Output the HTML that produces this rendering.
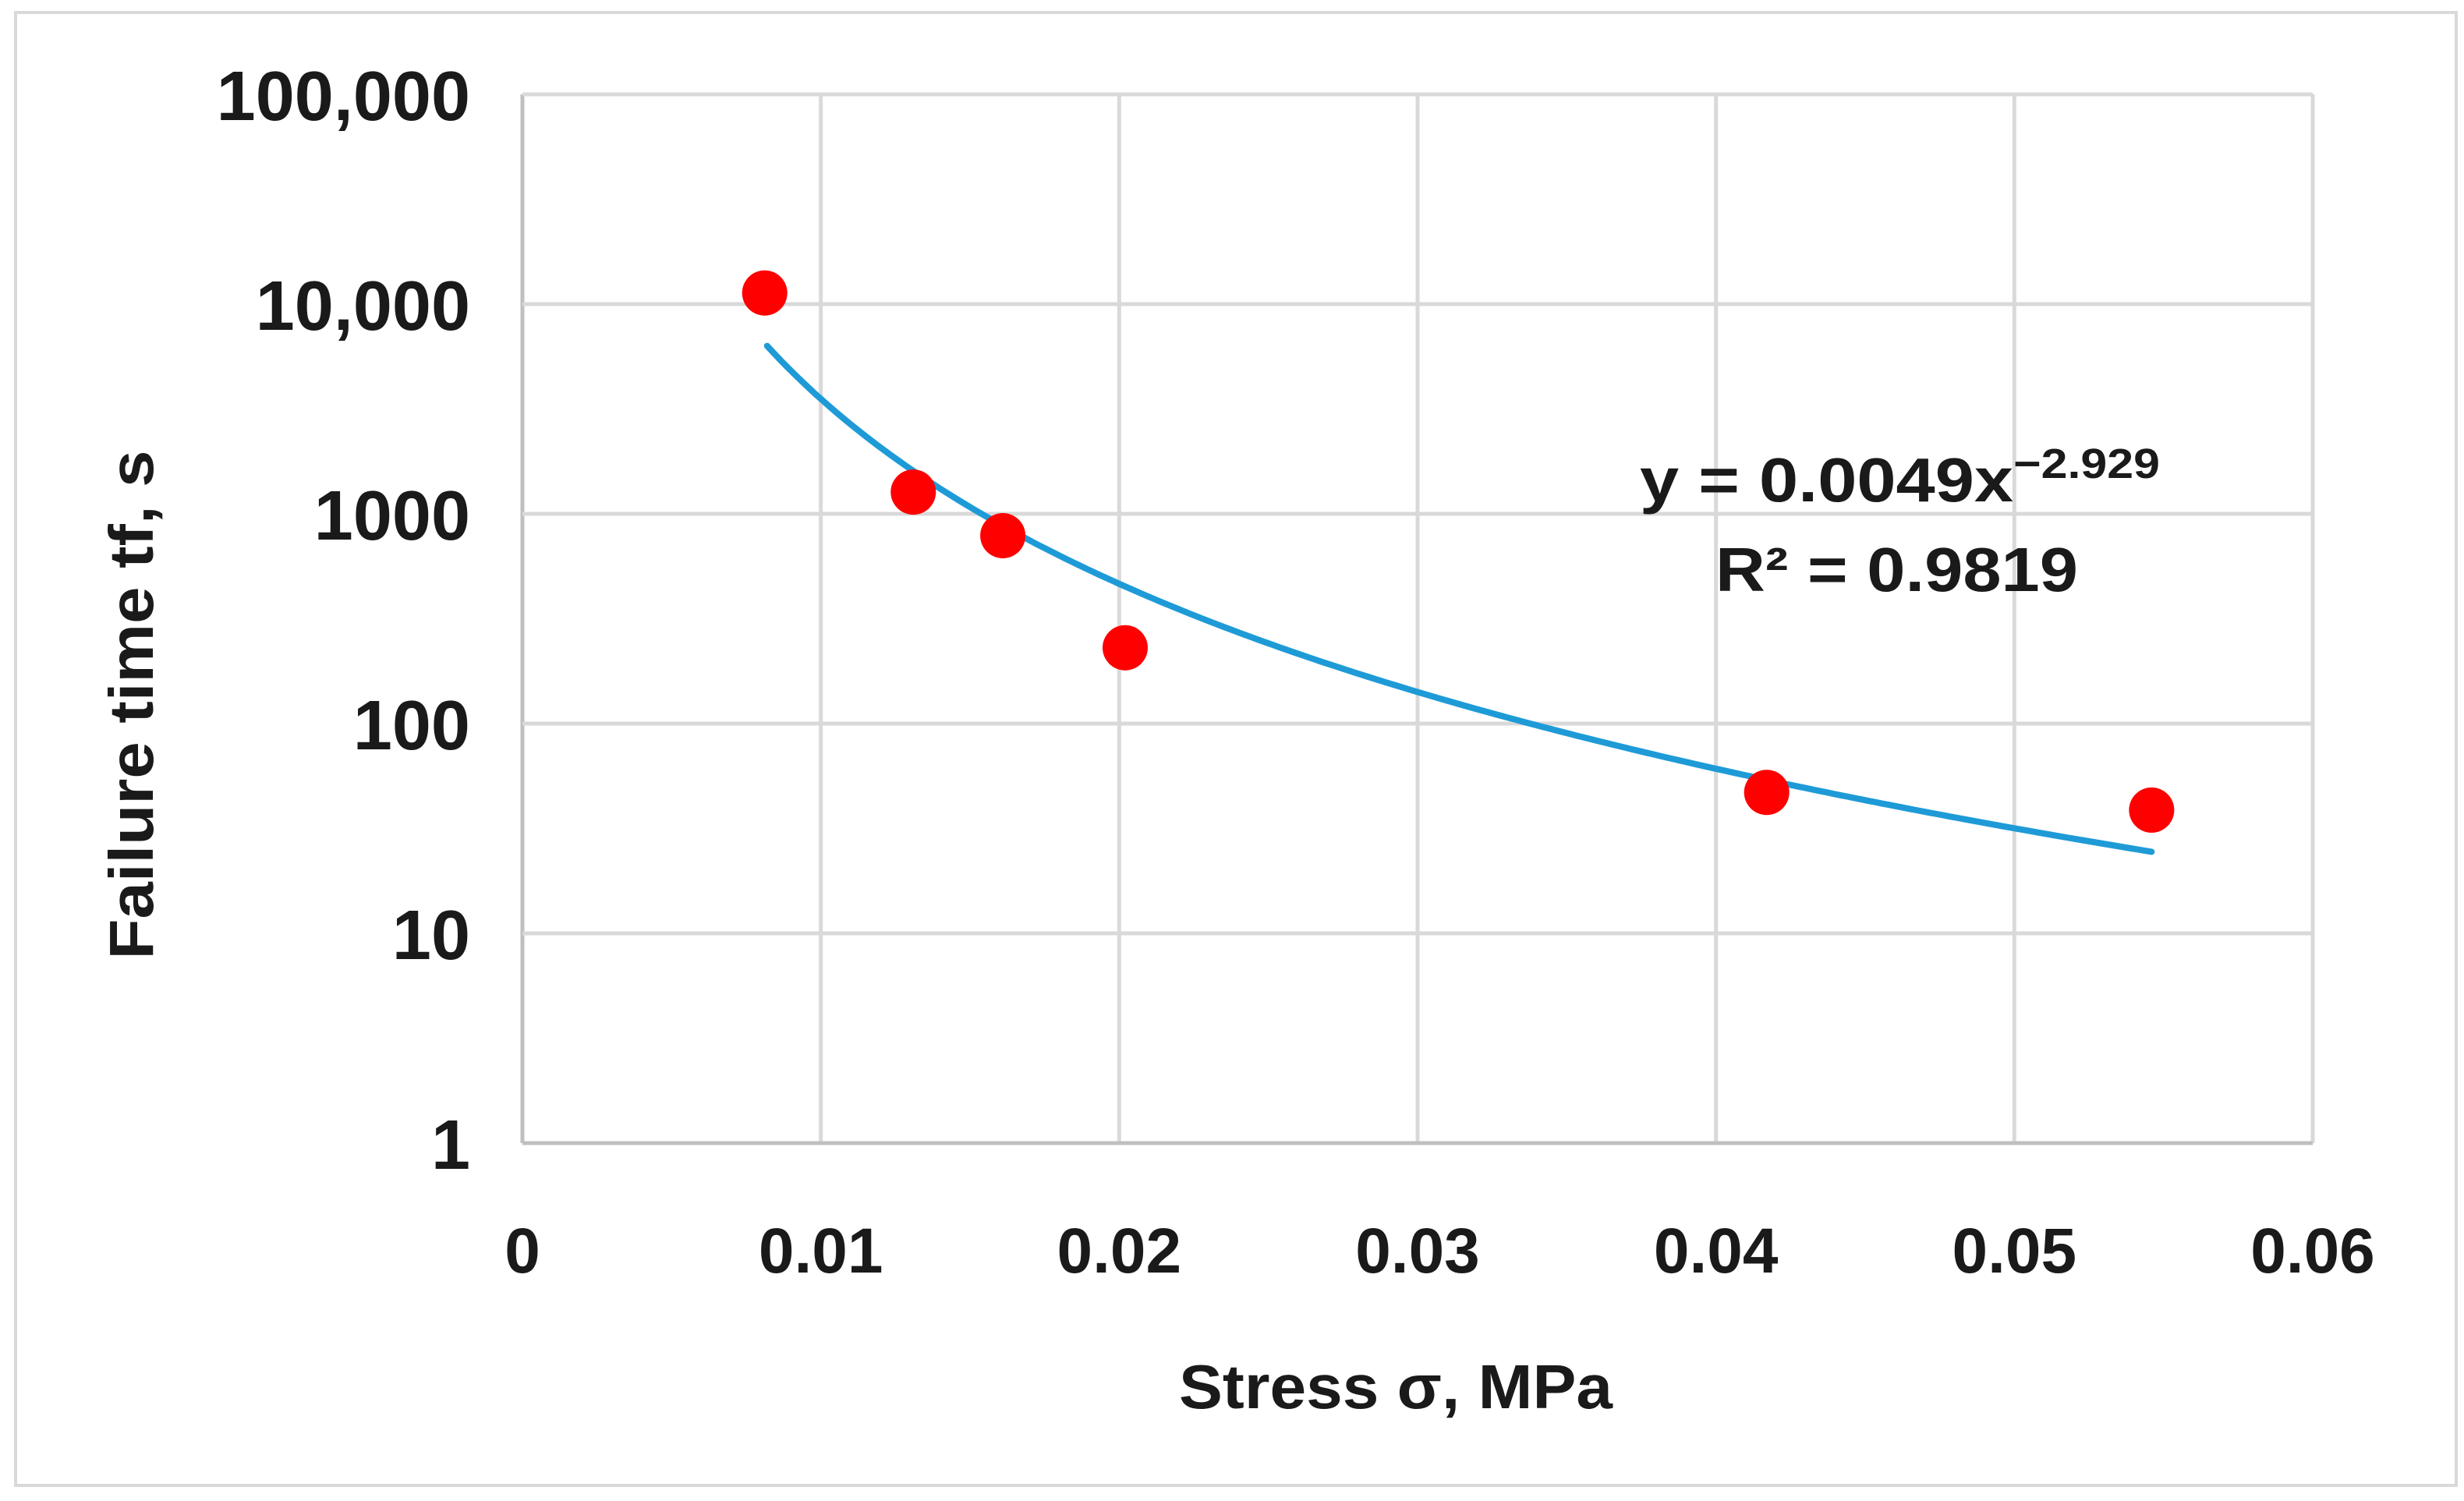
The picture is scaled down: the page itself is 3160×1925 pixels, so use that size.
<!DOCTYPE html>
<html><head><meta charset="utf-8"><style>
html,body{margin:0;padding:0;background:#fff;}
svg{display:block;font-family:"Liberation Sans",sans-serif;font-weight:bold;}
</style></head><body>
<svg id="chart" width="3160" height="1925" viewBox="0 0 3160 1925" xmlns="http://www.w3.org/2000/svg">
<rect x="20" y="16" width="3130" height="1889" fill="#fff" stroke="#d9d9d9" stroke-width="4"/>
<g id="grid"></g>
<g id="labels"></g>
<path id="trend" fill="none" stroke="#1e9bd7" stroke-width="8" stroke-linecap="round"/>
<g id="points"></g>
<text x="1790" y="1806" font-size="80" text-anchor="middle" textLength="556" lengthAdjust="spacingAndGlyphs" fill="#1a1a1a">Stress σ, MPa</text>
<text transform="translate(196,904) rotate(-90)" font-size="80" text-anchor="middle" textLength="653" lengthAdjust="spacingAndGlyphs" fill="#1a1a1a">Failure time tf, s</text>
<text x="2103" y="643" font-size="80" fill="#1a1a1a" textLength="667" lengthAdjust="spacingAndGlyphs">y = 0.0049x<tspan dy="-30" font-size="54">−2.929</tspan></text>
<text x="2200" y="758" font-size="80" fill="#1a1a1a" textLength="465" lengthAdjust="spacingAndGlyphs">R² = 0.9819</text>
</svg>
<script>
const xTicks = [0, 0.01, 0.02, 0.03, 0.04, 0.05, 0.06];
const xTickLabels = ["0", "0.01", "0.02", "0.03", "0.04", "0.05", "0.06"];
const yTicks = [1, 10, 100, 1000, 10000, 100000];
const yTickLabels = ["1", "10", "100", "1000", "10,000", "100,000"];
const stress = [0.00812, 0.0131, 0.0161, 0.0202, 0.0417, 0.0546];
const failureTime = [11300, 1270, 787, 230, 47, 38.7];
const trendCoef = 0.0049;
const trendExp = -2.929;
const trendRange = [0.0082, 0.0546];

const NS = "http://www.w3.org/2000/svg";
const L = 670, R = 2966, T = 121, B = 1466;
const xs = v => L + (v - 0) / 0.06 * (R - L);
const ys = v => B - (Math.log10(v) - 0) / 5 * (B - T);

function mk(tag, attrs, parent) {
  const e = document.createElementNS(NS, tag);
  for (const k in attrs) e.setAttribute(k, attrs[k]);
  parent.appendChild(e);
  return e;
}
const grid = document.getElementById('grid');
const labels = document.getElementById('labels');
xTicks.forEach((t, i) => {
  const x = xs(t);
  const ln = mk('line', {x1: x, x2: x, y1: T, y2: B, stroke: i === 0 ? '#bfbfbf' : '#d9d9d9', 'stroke-width': 5}, grid);
  
  
  const tx = mk('text', {x: x, y: 1632, 'font-size': 82, 'text-anchor': 'middle', fill: '#1a1a1a'}, labels);
  tx.textContent = xTickLabels[i];
  
  
});
yTicks.forEach((t, i) => {
  const y = ys(t);
  const ln = mk('line', {x1: L, x2: R, y1: y, y2: y, stroke: i === 0 ? '#bfbfbf' : '#d9d9d9', 'stroke-width': 5}, grid);
  
  
  const tx = mk('text', {x: 603, y: y + 33, 'font-size': 90, 'text-anchor': 'end', fill: '#1a1a1a'}, labels);
  tx.textContent = yTickLabels[i];
  
  
});
let d = '';
for (let k = 0; k <= 200; k++) {
  const xv = trendRange[0] + (trendRange[1] - trendRange[0]) * k / 200;
  const yv = trendCoef * Math.pow(xv, trendExp);
  d += (k ? 'L' : 'M') + xs(xv).toFixed(1) + ',' + ys(yv).toFixed(1);
}
document.getElementById('trend').setAttribute('d', d);
const pts = document.getElementById('points');
stress.forEach((s, i) => {
  const c = mk('circle', {cx: xs(s), cy: ys(failureTime[i]), r: 29, fill: '#ff0000'}, pts);
  
  
});
</script>
</body></html>
